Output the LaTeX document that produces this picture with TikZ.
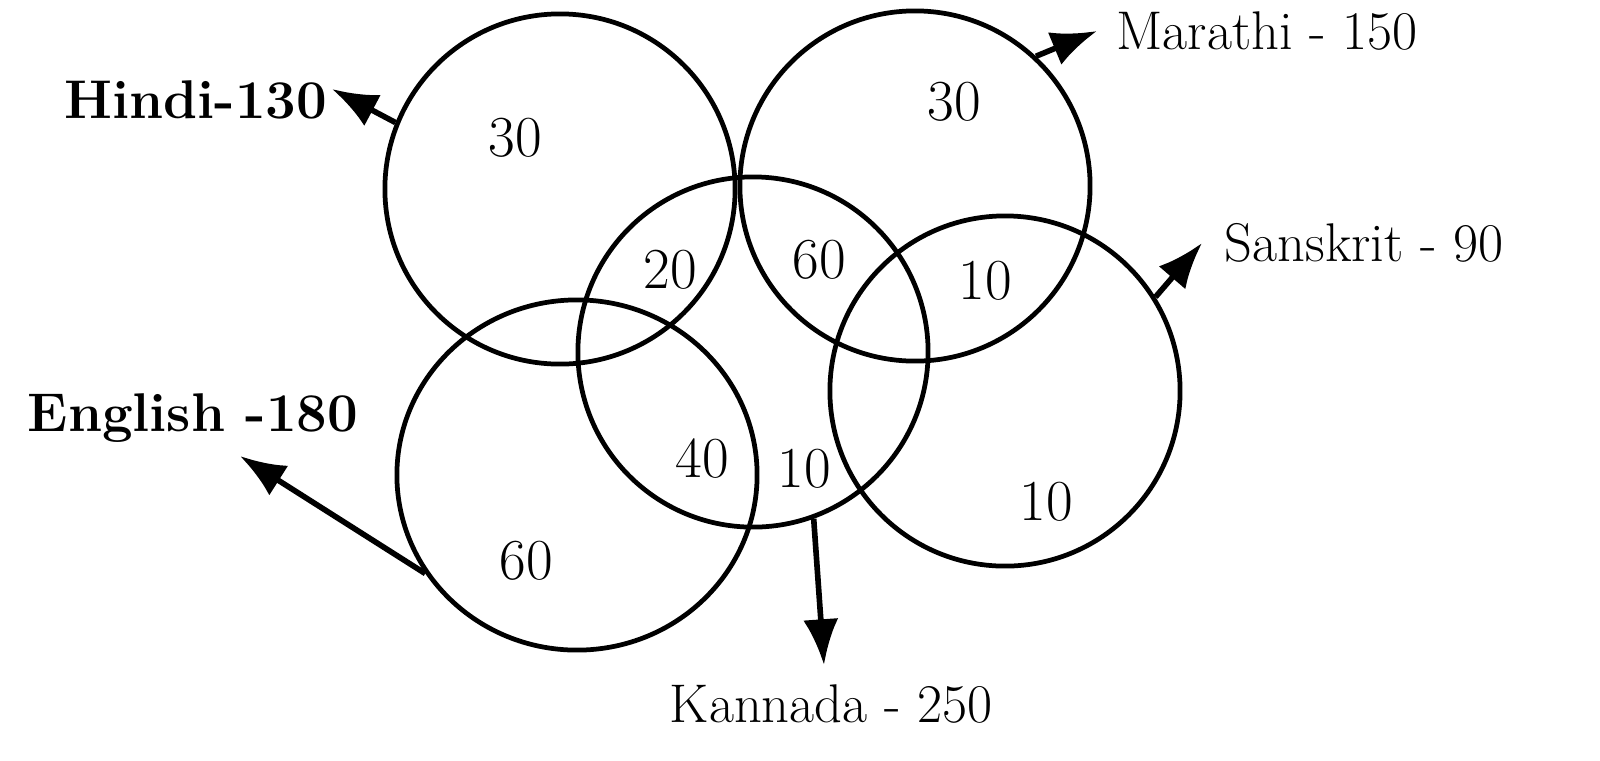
\documentclass[tikz,border=0pt]{standalone}
\usepackage{fontspec}
\usetikzlibrary{arrows.meta,shapes.geometric}
\begin{document}
\begin{tikzpicture}[x=0.01cm,y=-0.01cm,
  setc/.style={circle,draw,line width=1.35pt,inner sep=0pt,minimum size=3.5cm},
  num/.style={font=\fontsize{16.5}{18}\selectfont,inner sep=0pt},
  lab/.style={font=\fontsize{15.5}{18}\selectfont,inner sep=0pt},
  blab/.style={font=\fontsize{15.5}{18}\selectfont\bfseries,inner sep=0pt},
  ptr/.style={line width=1.6pt,-{Latex[length=13pt,width=10pt]}}]
\useasboundingbox (0,0) rectangle (1600,760);
% circles
\node[setc] (hindi) at (560,189) {};
\node[setc] (marathi) at (915,186) {};
\node[setc] (kannada) at (753,352) {};
\node[setc,ellipse,minimum width=3.6cm,minimum height=3.5cm] (english) at (577,475) {};
\node[setc] (sanskrit) at (1005,391) {};
% numbers
\node[num] (n1) at (515,138) {30};
\node[num] (n2) at (954,102) {30};
\node[num] (n3) at (670,270) {20};
\node[num] (n4) at (819,260) {60};
\node[num] (n5) at (985,281) {10};
\node[num] (n6) at (702,459) {40};
\node[num] (n7) at (804,469) {10};
\node[num] (n8) at (1046,502) {10};
\node[num] (n9) at (526,561) {60};
% labels
\node[blab] (lhindi) at (196,100) {Hindi-130};
\node[lab] (lmarathi) at (1267,31) {Marathi - 150};
\node[lab] (lsanskrit) at (1364,243) {Sanskrit - 90};
\node[blab] (lenglish) at (193,418) {English -180};
\node[lab] (lkannada) at (831,704) {Kannada - 250};
% arrow tips
\coordinate (thindi) at (332,89);
\coordinate (tmarathi) at (1097,31);
\coordinate (tsanskrit) at (1202,243);
\coordinate (tenglish) at (240,456);
\coordinate (tkannada) at (824,665);
% arrows
\draw[ptr] (hindi.158) -- (thindi);
\draw[ptr] (marathi.47) -- (tmarathi);
\draw[ptr] (sanskrit.32) -- (tsanskrit);
\draw[ptr] (english.213) -- (tenglish);
\draw[ptr] (kannada.290) -- (tkannada);
\end{tikzpicture}
\end{document}
